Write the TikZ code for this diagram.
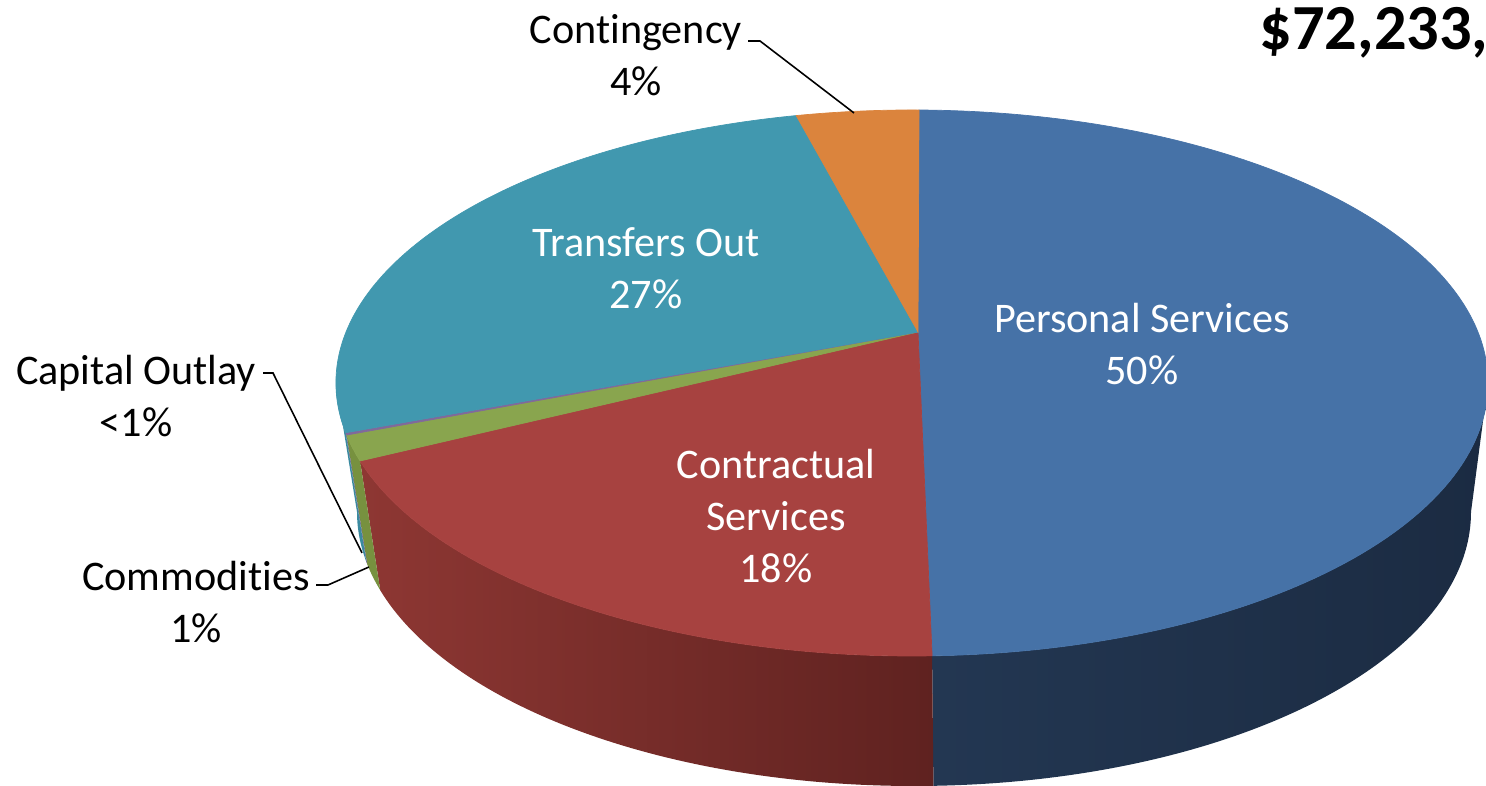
\documentclass[tikz,border=0pt]{standalone}
\usepackage{fontspec}
\setmainfont{Carlito}[Ligatures=NoCommon]
\usepackage{tikz}
\usetikzlibrary{calc}
\definecolor{psblue}{HTML}{4672A7}
\definecolor{psside}{HTML}{233752}
\definecolor{psdark}{HTML}{1B2B42}
\definecolor{csred}{HTML}{A74240}
\definecolor{csside}{HTML}{8E3733}
\definecolor{csdark}{HTML}{5F2220}
\definecolor{cmgreen}{HTML}{89A54E}
\definecolor{cmside}{HTML}{77913F}
\definecolor{copurple}{HTML}{80699B}
\definecolor{coside}{HTML}{6A5682}
\definecolor{toteal}{HTML}{4198AF}
\definecolor{toside}{HTML}{3A8AA0}
\definecolor{cnorange}{HTML}{DB843D}
\tikzset{every node/.style={font=\fontsize{12}{14.8}\selectfont,align=center,inner sep=0pt},
  inlabel/.style={text=white},
  leader/.style={draw=black,line width=0.45pt},
  title/.style={font=\fontsize{18.3}{22}\selectfont\bfseries,anchor=base west}}
% top face piece: start angle, end angle, colour
\newcommand{\topslice}[3]{\fill[#3,draw=#3,line width=0.2pt] (apex) -- ([shift={(#1:5.76cm and 2.73cm)}]top)
  arc[start angle=#1,end angle=#2,x radius=5.76cm,y radius=2.73cm] -- cycle;}
% side piece: start angle, end angle, left colour, right colour
\newcommand{\sideslice}[4]{\shade[left color=#3,right color=#4] ([shift={(#1:5.76cm and 2.73cm)}]top)
  arc[start angle=#1,end angle=#2,x radius=5.76cm,y radius=2.73cm]
  -- ([shift={(#2:5.57cm and 2.74cm)}]bot)
  arc[start angle=#2,end angle=#1,x radius=5.57cm,y radius=2.74cm] -- cycle;}

\begin{document}
\begin{tikzpicture}
    \useasboundingbox (0,0) rectangle (14.86,7.86);
    \clip (0,0) rectangle (14.86,7.86);
    \coordinate (top) at (9.12,4.03);
    \coordinate (bot) at (9.14,2.74);
    \coordinate (apex) at (9.18,4.54);
    % sides
    \sideslice{0}{-88}{psside}{psdark}
    \sideslice{-88}{-163.4}{csside}{csdark}
    \sideslice{-163.4}{-169}{cmside}{cmside}
    \sideslice{-169}{-169.5}{coside}{coside}
    \sideslice{-169.5}{-180}{toside}{toside}
    % top face
    \topslice{89.3}{-88}{psblue}
    \topslice{-88}{-163.4}{csred}
    \topslice{-163.4}{-169}{cmgreen}
    \topslice{-169}{-169.5}{copurple}
    \topslice{-169.5}{-258.4}{toteal}
    \topslice{-258.4}{-270.7}{cnorange}
    % labels
    \node[inlabel] (1) at (11.42,4.42) {Personal Services\\50\%};
    \node[inlabel] (2) at (7.76,2.70) {Contractual\\Services\\18\%};
    \node (3) at (1.96,1.84) {Commodities\\1\%};
    \node (4) at (1.36,3.90) {Capital Outlay\\<1\%};
    \node[inlabel] (5) at (6.46,5.18) {Transfers Out\\27\%};
    \node (6) at (6.36,7.31) {Contingency\\4\%};
    \node[title] (0) at (12.59,7.36) {\$72,233,};
    % leader lines
    \coordinate (l3) at (3.16,2.01);
    \coordinate (p3) at (3.69,2.19);
    \coordinate (l4) at (2.63,4.13);
    \coordinate (p4) at (3.62,2.33);
    \coordinate (l6) at (7.48,7.45);
    \coordinate (p6) at (8.54,6.73);
    \draw[leader] (l3) -- ++(0.12,0) -- (p3);
    \draw[leader] (l4) -- ++(0.10,0) -- (p4);
    \draw[leader] (l6) -- ++(0.12,0) -- (p6);
\end{tikzpicture}
\end{document}
